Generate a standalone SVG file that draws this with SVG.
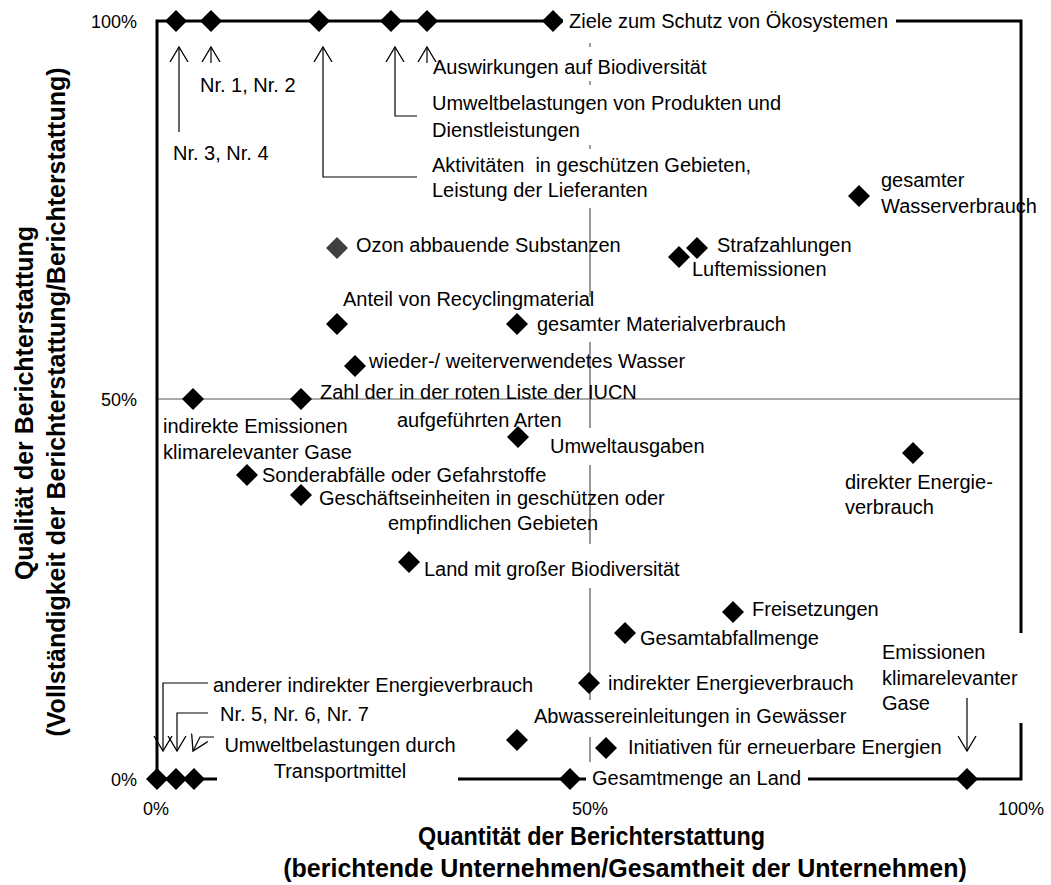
<svg xmlns="http://www.w3.org/2000/svg" width="1051" height="885" viewBox="0 0 1051 885">
  <style>
    .lbl { font-family: "Liberation Sans", Arial, sans-serif; font-size: 20px; fill: #000; }
    .tick { font-family: "Liberation Sans", Arial, sans-serif; font-size: 18px; fill: #000; }
    .axis { font-family: "Liberation Sans", Arial, sans-serif; font-size: 25px; font-weight: bold; fill: #000; }
    .box { fill: #fff; stroke: none; }
    .pt { fill: #000; }
    .pt-gray { fill: #404040; }
    .grid { stroke: #555; stroke-width: 1.2; fill: none; }
    .frame { stroke: #000; stroke-width: 3; fill: none; }
    .conn { stroke: #000; stroke-width: 1.2; fill: none; marker-end: url(#ah); }
  </style>
  <defs>
    <marker id="ah" viewBox="0 0 16 20" refX="15" refY="10" markerWidth="16" markerHeight="20" markerUnits="userSpaceOnUse" orient="auto">
      <path d="M0,1 L15,10 L0,19" fill="none" stroke="#000" stroke-width="1.3"/>
    </marker>
    <path id="dia" d="M0,-11 L11,0 L0,11 L-11,0 Z"/>
  </defs>

  <rect width="1051" height="885" fill="#fff"/>

  <!-- plot area: 50 % lines and frame -->
  <g id="plot-area">
    <line class="grid" x1="157" y1="399" x2="1021" y2="399"/>
    <line class="grid" x1="590" y1="21" x2="590" y2="779"/>
    <path class="frame" d="M157,21 H1021 V779 H157 Z"/>
  </g>

  <!-- axis tick labels -->
  <g id="ticks">
    <text class="tick" x="137" y="28" text-anchor="end">100%</text>
    <text class="tick" x="137" y="406" text-anchor="end">50%</text>
    <text class="tick" x="137" y="786" text-anchor="end">0%</text>
    <text class="tick" x="156" y="815" text-anchor="middle">0%</text>
    <text class="tick" x="590" y="815" text-anchor="middle">50%</text>
    <text class="tick" x="1021" y="815" text-anchor="middle">100%</text>
  </g>

  <!-- axis titles -->
  <g id="axis-titles">
    <text class="axis" x="418" y="845" textLength="347" lengthAdjust="spacingAndGlyphs">Quantität der Berichterstattung</text>
    <text class="axis" x="625" y="877" text-anchor="middle">(berichtende Unternehmen/Gesamtheit der Unternehmen)</text>
    <text class="axis" transform="translate(33,403) rotate(-90)" text-anchor="middle">Qualität der Berichterstattung</text>
    <text class="axis" transform="translate(65,402) rotate(-90)" text-anchor="middle">(Vollständigkeit der Berichterstattung/Berichterstattung)</text>
  </g>

  <!-- indicators -->
  <g id="n-top-row">
    <use href="#dia" class="pt" x="176" y="21"/>
    <use href="#dia" class="pt" x="211" y="21"/>
    <use href="#dia" class="pt" x="319" y="21"/>
    <use href="#dia" class="pt" x="391" y="21"/>
    <use href="#dia" class="pt" x="427" y="21"/>
    <use href="#dia" class="pt" x="553" y="21"/>
  </g>
  <g id="n-ziele">
    <rect class="box" x="563" y="4" width="333" height="39"/>
    <text class="lbl" x="569" y="28">Ziele zum Schutz von Ökosystemen</text>
  </g>
  <g id="n-auswirkungen">
    <rect class="box" x="432" y="47" width="300" height="34"/>
    <text class="lbl" x="433" y="74">Auswirkungen auf Biodiversität</text>
  </g>
  <g id="n-umweltbelastungen">
    <rect class="box" x="430" y="85" width="370" height="60"/>
    <text class="lbl" x="432" y="110">Umweltbelastungen von Produkten und</text>
    <text class="lbl" x="432" y="137">Dienstleistungen</text>
  </g>
  <g id="n-aktivitaeten">
    <rect class="box" x="430" y="149" width="340" height="59"/>
    <text class="lbl" x="432" y="172" xml:space="preserve">Aktivitäten  in geschützen Gebieten,</text>
    <text class="lbl" x="432" y="197">Leistung der Lieferanten</text>
  </g>
  <g id="n-nr12">
    <text class="lbl" x="200" y="92">Nr. 1, Nr. 2</text>
  </g>
  <g id="n-nr34">
    <text class="lbl" x="173" y="160">Nr. 3, Nr. 4</text>
  </g>
  <g id="n-wasserverbrauch">
    <use href="#dia" class="pt" x="859" y="196"/>
    <text class="lbl" x="881" y="187">gesamter</text>
    <text class="lbl" x="881" y="213">Wasserverbrauch</text>
  </g>
  <g id="n-luftemissionen">
    <use href="#dia" class="pt" x="679" y="257"/>
    <text class="lbl" x="692" y="276">Luftemissionen</text>
  </g>
  <g id="n-strafzahlungen">
    <use href="#dia" class="pt" x="697" y="248"/>
    <text class="lbl" x="717" y="252">Strafzahlungen</text>
  </g>
  <g id="n-ozon">
    <use href="#dia" class="pt-gray" x="337" y="248"/>
    <text class="lbl" x="356" y="252">Ozon abbauende Substanzen</text>
  </g>
  <g id="n-materialverbrauch">
    <rect class="box" x="532" y="297" width="293" height="45"/>
    <use href="#dia" class="pt" x="517" y="324"/>
    <text class="lbl" x="537" y="331">gesamter Materialverbrauch</text>
  </g>
  <g id="n-recycling">
    <use href="#dia" class="pt" x="337" y="324"/>
    <text class="lbl" x="343" y="306">Anteil von Recyclingmaterial</text>
  </g>
  <g id="n-wasser-wieder">
    <use href="#dia" class="pt" x="355" y="366"/>
    <text class="lbl" x="369" y="368">wieder-/ weiterverwendetes Wasser</text>
  </g>
  <g id="n-iucn">
    <use href="#dia" class="pt" x="301" y="399"/>
    <text class="lbl" x="320" y="399">Zahl der in der roten Liste der IUCN</text>
    <text class="lbl" x="397" y="427">aufgeführten Arten</text>
  </g>
  <g id="n-indirekte-emissionen">
    <use href="#dia" class="pt" x="193" y="399"/>
    <text class="lbl" x="163" y="433">indirekte Emissionen</text>
    <text class="lbl" x="163" y="459">klimarelevanter Gase</text>
  </g>
  <g id="n-umweltausgaben">
    <rect class="box" x="545" y="428" width="160" height="37"/>
    <use href="#dia" class="pt" x="518" y="437"/>
    <text class="lbl" x="550" y="453">Umweltausgaben</text>
  </g>
  <g id="n-direkter-energie">
    <use href="#dia" class="pt" x="913" y="453"/>
    <text class="lbl" x="845" y="489">direkter Energie-</text>
    <text class="lbl" x="845" y="514">verbrauch</text>
  </g>
  <g id="n-sonderabfaelle">
    <use href="#dia" class="pt" x="247" y="475"/>
    <text class="lbl" x="262" y="482">Sonderabfälle oder Gefahrstoffe</text>
  </g>
  <g id="n-geschaeftseinheiten">
    <use href="#dia" class="pt" x="301" y="495"/>
    <text class="lbl" x="319" y="505">Geschäftseinheiten in geschützen oder</text>
    <text class="lbl" x="388" y="530">empfindlichen Gebieten</text>
  </g>
  <g id="n-land-biodiversitaet">
    <rect class="box" x="420" y="544" width="280" height="44"/>
    <use href="#dia" class="pt" x="409" y="562"/>
    <text class="lbl" x="424" y="576">Land mit großer Biodiversität</text>
  </g>
  <g id="n-freisetzungen">
    <use href="#dia" class="pt" x="733" y="612"/>
    <text class="lbl" x="752" y="616">Freisetzungen</text>
  </g>
  <g id="n-gesamtabfall">
    <use href="#dia" class="pt" x="625" y="633"/>
    <text class="lbl" x="640" y="645">Gesamtabfallmenge</text>
  </g>
  <g id="n-emissionen-klima">
    <rect class="box" x="876" y="633" width="154" height="90"/>
    <use href="#dia" class="pt" x="967" y="779"/>
    <text class="lbl" x="882" y="659">Emissionen</text>
    <text class="lbl" x="882" y="685">klimarelevanter</text>
    <text class="lbl" x="882" y="710">Gase</text>
  </g>
  <g id="n-indirekter-energie">
    <use href="#dia" class="pt" x="589" y="683"/>
    <text class="lbl" x="608" y="690">indirekter Energieverbrauch</text>
  </g>
  <g id="n-abwasser">
    <rect class="box" x="530" y="700" width="322" height="37"/>
    <use href="#dia" class="pt" x="517" y="740"/>
    <text class="lbl" x="534" y="723">Abwassereinleitungen in Gewässer</text>
  </g>
  <g id="n-initiativen">
    <use href="#dia" class="pt" x="606" y="748"/>
    <text class="lbl" x="628" y="754">Initiativen für erneuerbare Energien</text>
  </g>
  <g id="n-gesamtmenge-land">
    <rect class="box" x="586" y="762" width="222" height="34"/>
    <use href="#dia" class="pt" x="570" y="779"/>
    <text class="lbl" x="592" y="785">Gesamtmenge an Land</text>
  </g>
  <g id="n-anderer-indirekt">
    <text class="lbl" x="213" y="692">anderer indirekter Energieverbrauch</text>
  </g>
  <g id="n-nr567">
    <text class="lbl" x="220" y="721">Nr. 5, Nr. 6, Nr. 7</text>
  </g>
  <g id="n-transport">
    <rect class="box" x="217" y="740" width="241" height="56"/>
    <text class="lbl" x="340" y="752" text-anchor="middle">Umweltbelastungen durch</text>
    <text class="lbl" x="340" y="778" text-anchor="middle">Transportmittel</text>
  </g>
  <g id="n-bottom-left">
    <use href="#dia" class="pt" x="157" y="779"/>
    <use href="#dia" class="pt" x="176" y="779"/>
    <use href="#dia" class="pt" x="194" y="779"/>
  </g>

  <!-- leader lines from labels to their points -->
  <g id="connectors">
    <path class="conn" d="M179,132 V47"/>
    <path class="conn" d="M211,63 V47"/>
    <path class="conn" d="M417,177 H323 V47"/>
    <path class="conn" d="M417,116 H395 V47"/>
    <path class="conn" d="M427,63 V47"/>
    <path class="conn" d="M208,683 H163 V751"/>
    <path class="conn" d="M208,713 H177 V751"/>
    <path class="conn" d="M214,737 H200 L193,751"/>
    <path class="conn" d="M967,698 V751"/>
  </g>
</svg>
